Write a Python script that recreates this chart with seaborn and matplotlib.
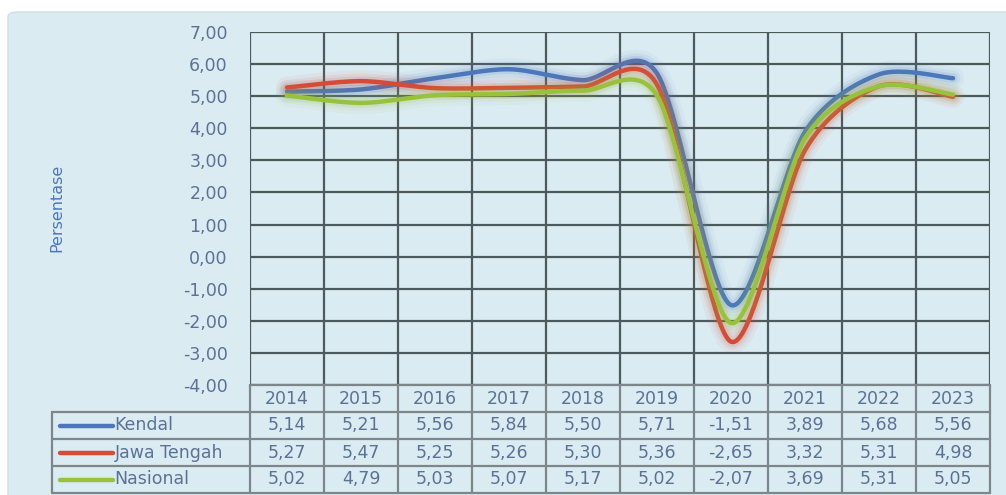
import numpy as np
import pandas as pd
import matplotlib
matplotlib.use("Agg")
import matplotlib.pyplot as plt
import matplotlib.patheffects as pe
from matplotlib.patches import FancyBboxPatch
from matplotlib import font_manager
import seaborn as sns

# ---- data -------------------------------------------------------------
years = [2014, 2015, 2016, 2017, 2018, 2019, 2020, 2021, 2022, 2023]
kendal = [5.14, 5.21, 5.56, 5.84, 5.50, 5.71, -1.51, 3.89, 5.68, 5.56]
jawa_tengah = [5.27, 5.47, 5.25, 5.26, 5.30, 5.36, -2.65, 3.32, 5.31, 4.98]
nasional = [5.02, 4.79, 5.03, 5.07, 5.17, 5.02, -2.07, 3.69, 5.31, 5.05]
series_names = ["Kendal", "Jawa Tengah", "Nasional"]
y_ticks = [-4, -3, -2, -1, 0, 1, 2, 3, 4, 5, 6, 7]
y_label = "Persentase"

colors = {"Kendal": "#4a78ba", "Jawa Tengah": "#d44b37", "Nasional": "#98c23c"}
text_color = "#5b7296"
grid_color = "#4d5a5c"
table_color = "#7d8789"
panel_color = "#dbebf2"

sns.set_theme(style="white")
plt.rcParams["font.family"] = ["DejaVu Sans"]

names = {f.name for f in font_manager.fontManager.ttflist}
narrow = "Liberation Sans Narrow" if "Liberation Sans Narrow" in names else "DejaVu Sans"

W, H = 1006, 495
fig = plt.figure(figsize=(W / 100, H / 100), dpi=100)
fig.patch.set_facecolor("white")

# light panel behind the chart
fig.patches.append(FancyBboxPatch((8 / W, -0.05), 1.2, (H - 12) / H + 0.05,
                                  boxstyle="round,pad=0,rounding_size=0.01",
                                  transform=fig.transFigure, facecolor=panel_color,
                                  edgecolor="#cfdde3", linewidth=1.0, zorder=-10))


def px_rect(x0, y0, x1, y1):
    return [x0 / W, 1 - y1 / H, (x1 - x0) / W, (y1 - y0) / H]


ax = fig.add_axes(px_rect(250, 32, 990, 385))
ax.set_facecolor("none")


def smooth(xs, ys, n=40, k=7.0):
    """Cubic Bezier curve through the points (smoothed-line style)."""
    p = np.column_stack([xs, ys]).astype(float)
    p = np.vstack([p[0], p, p[-1]])
    out = []
    t = np.linspace(0, 1, n, endpoint=False)[:, None]
    for i in range(1, len(p) - 2):
        p0, p1, p2, p3 = p[i - 1], p[i], p[i + 1], p[i + 2]
        c1 = p1 + (p2 - p0) / k
        c2 = p2 - (p3 - p1) / k
        seg = ((1 - t) ** 3) * p1 + 3 * ((1 - t) ** 2) * t * c1 + 3 * (1 - t) * t ** 2 * c2 + t ** 3 * p2
        out.append(seg)
    out.append(p[-2][None, :])
    out = np.vstack(out)
    return out[:, 0], out[:, 1]


x_idx = np.arange(len(years))
for name, vals in zip(series_names, [kendal, jawa_tengah, nasional]):
    sx, sy = smooth(x_idx, vals)
    df = pd.DataFrame({"x": sx, "y": sy})
    c = colors[name]
    glow = [pe.Stroke(linewidth=16, foreground=c, alpha=0.05),
            pe.Stroke(linewidth=11, foreground=c, alpha=0.08),
            pe.Stroke(linewidth=7, foreground=c, alpha=0.12),
            pe.Normal()]
    sns.lineplot(data=df, x="x", y="y", sort=False, estimator=None, ax=ax,
                 color=c, linewidth=3.2, solid_capstyle="round",
                 path_effects=glow, zorder=3)

ax.set_xlim(-0.5, len(years) - 0.5)
ax.set_ylim(-4, 7)
ax.set_yticks(y_ticks)
ax.set_yticklabels([f"{v:.2f}".replace(".", ",") for v in y_ticks],
                   color=text_color, fontsize=12.5)
ax.set_xticks([])
ax.tick_params(axis="y", length=0, pad=16)
ax.set_xlabel("")
ax.set_ylabel("")
for v in y_ticks:
    ax.axhline(v, color=grid_color, linewidth=1.6, zorder=1)
for i in range(len(years) + 1):
    ax.axvline(i - 0.5, color=grid_color, linewidth=1.6, zorder=1)
for s in ax.spines.values():
    s.set_visible(False)

fig.text(57 / W, 1 - 208 / H, y_label, rotation=90, ha="center", va="center",
         color="#4a78ba", fontsize=11.5, family=narrow)

# ---- data table -------------------------------------------------------
leg_w = (250 - 52) / 74.0
tab = fig.add_axes(px_rect(52, 385, 990, 493))
tab.set_facecolor("none")
tab.set_xlim(-0.5 - leg_w, len(years) - 0.5)
tab.set_ylim(4, 0)
tab.axis("off")

lx0 = -0.5 - leg_w
lx1 = len(years) - 0.5
for r in [1, 2, 3, 4]:
    tab.plot([lx0, lx1], [r, r], color=table_color, linewidth=1.6, clip_on=False)
tab.plot([-0.5, lx1], [0, 0], color=table_color, linewidth=1.6, clip_on=False)
tab.plot([lx0, lx0], [1, 4], color=table_color, linewidth=1.6, clip_on=False)
for i in range(len(years) + 1):
    tab.plot([i - 0.5, i - 0.5], [0, 4], color=table_color, linewidth=1.6, clip_on=False)

for i, yr in enumerate(years):
    tab.text(i, 0.5, str(yr), ha="center", va="center", color=text_color, fontsize=12.5)

for r, (name, vals) in enumerate(zip(series_names, [kendal, jawa_tengah, nasional]), start=1):
    seg0 = lx0 + (60 - 52) / 74.0
    seg1 = lx0 + (113 - 52) / 74.0
    tab.plot([seg0, seg1], [r + 0.5, r + 0.5], color=colors[name], linewidth=3.2,
             solid_capstyle="round")
    tab.text(seg1 + 0.02, r + 0.5, name, ha="left", va="center", color=text_color, fontsize=12.5)
    for i, v in enumerate(vals):
        tab.text(i, r + 0.5, f"{v:.2f}".replace(".", ","), ha="center", va="center",
                 color=text_color, fontsize=12.5)

fig.savefig("out.png", dpi=100)
